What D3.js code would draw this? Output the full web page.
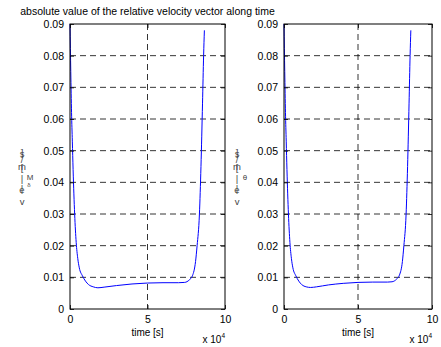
<!DOCTYPE html>
<meta charset="utf-8">
<head>
<style>
body {margin:0; background:#fff;}
text {font-family: "Liberation Sans", Arial, sans-serif; fill:#000;}
</style>
</head>
<body>
<div id="chart"></div>
<script src="https://d3js.org/d3.v7.min.js"></script>
<script>
// data (time in units of 1e4 s, velocity in m/s)
const tLeft = [0, 0.05, 0.1, 0.15, 0.2, 0.3, 0.4, 0.5, 0.6, 0.8, 1.0, 1.2, 1.5, 1.8, 2.2, 3.0, 4.0, 5.0, 6.0, 7.0, 7.4, 7.7, 7.9, 8.1, 8.2, 8.35, 8.45, 8.55, 8.62, 8.67];
const vLeft = [0.09, 0.075, 0.062, 0.053, 0.044, 0.03, 0.021, 0.016, 0.013, 0.0105, 0.0088, 0.0077, 0.0070, 0.0067, 0.0069, 0.0074, 0.0079, 0.0082, 0.0083, 0.0083, 0.0084, 0.0092, 0.0105, 0.015, 0.02, 0.03, 0.045, 0.065, 0.080, 0.088];
const tRight = [0, 0.05, 0.1, 0.15, 0.2, 0.3, 0.4, 0.5, 0.6, 0.8, 1.0, 1.2, 1.5, 1.8, 2.2, 3.0, 4.0, 5.0, 6.0, 7.0, 7.3, 7.6, 7.8, 8.0, 8.1, 8.25, 8.35, 8.45, 8.52, 8.57];
const vRight = [0.09, 0.075, 0.062, 0.053, 0.044, 0.03, 0.021, 0.016, 0.013, 0.0105, 0.0088, 0.0077, 0.0070, 0.0068, 0.0070, 0.0076, 0.0081, 0.0084, 0.0085, 0.0085, 0.0086, 0.0094, 0.0107, 0.015, 0.02, 0.03, 0.045, 0.065, 0.080, 0.088];
const yTicks = [0, 0.01, 0.02, 0.03, 0.04, 0.05, 0.06, 0.07, 0.08, 0.09];
const xTicks = [0, 5, 10];
const title = "absolute value of the relative velocity vector along time";

const width = 441, height = 347;
const svg = d3.select("#chart").append("svg")
  .attr("width", width).attr("height", height);

const panels = [
  {x0: 70, x1: 225, t: tLeft, v: vLeft, lx: 22, sup: "M", sub: "δ"},
  {x0: 284, x1: 432, t: tRight, v: vRight, lx: 237, sup: "θ", sub: ""}
];
const plotTop = 24, plotBottom = 309;

panels.forEach(p => {
  const x = d3.scaleLinear().domain([0, 10]).range([p.x0, p.x1]);
  const y = d3.scaleLinear().domain([0, 0.09]).range([plotBottom, plotTop]);
  const g = svg.append("g");

  // grid
  g.selectAll("line.hg").data(yTicks.slice(1, -1)).enter().append("line")
    .attr("x1", p.x0).attr("x2", p.x1)
    .attr("y1", d => y(d)).attr("y2", d => y(d))
    .attr("stroke", "#000").attr("stroke-width", 0.8).attr("stroke-dasharray", "6,4");
  g.selectAll("line.vg").data(xTicks.slice(1, -1)).enter().append("line")
    .attr("x1", d => x(d)).attr("x2", d => x(d))
    .attr("y1", plotTop).attr("y2", plotBottom)
    .attr("stroke", "#000").attr("stroke-width", 0.8).attr("stroke-dasharray", "6,4");

  // curve
  const data = p.t.map((d, i) => [d, p.v[i]]);
  g.append("path").datum(data)
    .attr("d", d3.line().x(d => x(d[0])).y(d => y(d[1])).curve(d3.curveMonotoneX))
    .attr("fill", "none").attr("stroke", "#0000ff").attr("stroke-width", 1);

  // axes (ticks inward)
  const tick = 4;
  g.append("g").attr("transform", `translate(0,${plotBottom})`)
    .call(d3.axisBottom(x).tickValues(xTicks).tickSizeInner(-tick).tickSizeOuter(0).tickPadding(7))
    .call(a => a.select(".domain").remove());
  g.append("g").attr("transform", `translate(0,${plotTop})`)
    .call(d3.axisTop(x).tickValues(xTicks).tickSizeInner(-tick).tickSizeOuter(0).tickFormat(""))
    .call(a => a.select(".domain").remove());
  g.append("g").attr("transform", `translate(${p.x0},0)`)
    .call(d3.axisLeft(y).tickValues(yTicks).tickSizeInner(-tick).tickSizeOuter(0).tickPadding(6)
      .tickFormat(d => d === 0 ? "0" : d3.format(".2f")(d)))
    .call(a => a.select(".domain").remove());
  g.append("g").attr("transform", `translate(${p.x1},0)`)
    .call(d3.axisRight(y).tickValues(yTicks).tickSizeInner(-tick).tickSizeOuter(0).tickFormat(""))
    .call(a => a.select(".domain").remove());
  g.selectAll(".tick text").attr("font-size", 10.5).attr("font-family", "Liberation Sans, Arial, sans-serif");
  g.selectAll(".tick line").attr("stroke-width", 0.8);

  g.append("rect").attr("x", p.x0).attr("y", plotTop)
    .attr("width", p.x1 - p.x0).attr("height", plotBottom - plotTop)
    .attr("fill", "none").attr("stroke", "#000").attr("stroke-width", 1);

  // x label
  g.append("text").attr("x", (p.x0 + p.x1) / 2).attr("y", 336)
    .attr("text-anchor", "middle").attr("font-size", 10).text("time [s]");
  const ex = g.append("text").attr("x", p.x1).attr("y", 343)
    .attr("text-anchor", "end").attr("font-size", 10);
  ex.append("tspan").text("x 10");
  ex.append("tspan").attr("dy", -5).attr("font-size", 6.5).text("4");

  // garbled stacked y label, drawn as one text
  const chars = [["s", 157], ["]", 156], ["/", 163], ["m", 170], ["[", 171], ["|", 182], ["e", 193], ["|", 192], ["v", 205]];
  const yl = g.append("text").attr("font-size", 9.5).attr("text-anchor", "middle").style("fill", "#444");
  chars.forEach(c => yl.append("tspan").attr("x", p.lx).attr("y", c[1]).text(c[0]));
  yl.append("tspan").attr("x", p.lx + 8).attr("y", 180).attr("font-size", 8).text(p.sup);
  if (p.sub) yl.append("tspan").attr("x", p.lx + 7).attr("y", 187).attr("font-size", 6).text(p.sub);
});

svg.append("text").attr("x", (70 + 225) / 2).attr("y", 15)
  .attr("text-anchor", "middle").attr("font-size", 10.5).text(title);
</script>
</body>
</html>
